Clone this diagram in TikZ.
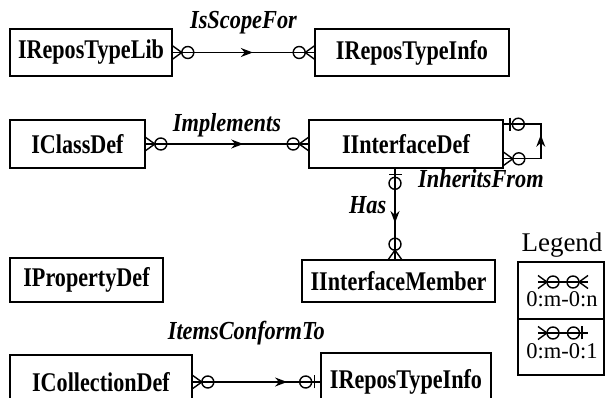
\documentclass[tikz,border=0pt]{standalone}
\usepackage{fontspec}
\setmainfont{Liberation Serif}
\newfontfamily\boxfont[FakeStretch=0.82]{Liberation Serif}
\newfontfamily\lblfont[FakeStretch=0.86]{Liberation Serif}
\usetikzlibrary{arrows.meta,decorations.markings,calc}
\tikzset{
 ent/.style={draw, line width=1.6pt, inner sep=0pt, font=\boxfont\bfseries\fontsize{27}{32}\selectfont},
 rel/.style={line width=1.4pt},
 lbl/.style={font=\lblfont\bfseries\itshape\fontsize{26}{30}\selectfont, inner sep=0pt},
 lgd/.style={font=\fontsize{22.5}{26}\selectfont, inner sep=0pt},
 midarrow/.style={postaction={decorate},decoration={markings,mark=at position #1 with {\arrow{Stealth[length=12pt,width=9pt]}}}},
 zmany/.pic={\draw[rel] (0,-6.5)--(9,0)--(0,6.5); \draw[rel] (15,0) circle[radius=6];},
 zone/.pic={\draw[rel] (6,-6.5)--(6,6.5); \draw[rel] (14.5,0) circle[radius=6];},
}
\begin{document}
\begin{tikzpicture}[x=1pt,y=-1pt]
\useasboundingbox (0,0) rectangle (606,398);
\clip (0,0) rectangle (606,398);
% entities
\node[ent, minimum width=162pt, minimum height=47pt] (A) at (91,52.5) {IReposTypeLib};
\node[ent, minimum width=194pt, minimum height=47pt] (B) at (412,52.5) {IReposTypeInfo};
\node[ent, minimum width=135pt, minimum height=48pt] (C) at (77.5,144) {IClassDef};
\node[ent, minimum width=194pt, minimum height=48pt] (D) at (406,144) {IInterfaceDef};
\node[ent, minimum width=153pt, minimum height=44pt] (E) at (86.5,280) {IPropertyDef};
\node[ent, minimum width=193pt, minimum height=42pt] (F) at (398.5,281) {IInterfaceMember};
\node[ent, minimum width=182pt, minimum height=54pt] (G) at (101,382) {ICollectionDef};
\node[ent, minimum width=170pt, minimum height=58pt] (H) at (406,382) {IReposTypeInfo};
% IsScopeFor
\draw[rel, midarrow=0.566] (A.east) -- node[lbl, anchor=base, yshift=24pt] {IsScopeFor} (B.west);
\pic at (A.east) {zmany};
\pic[rotate=180] at (B.west) {zmany};
% Implements
\draw[rel, midarrow=0.6] (C.east) -- node[lbl, anchor=base, yshift=12pt] {Implements} (D.west);
\pic at (C.east) {zmany};
\pic[rotate=180] at (D.west) {zmany};
% Has
\coordinate (Ds) at ($(D.south)+(-11,0)$);
\coordinate (Ft) at (Ds |- F.north);
\draw[rel, midarrow=0.6] (Ds) -- node[lbl, left=8pt, pos=0.40] {Has} (Ft);
\pic[rotate=-90] at (Ds) {zone};
\pic[rotate=90] at (Ft) {zmany};
% InheritsFrom loop
\coordinate (Dt) at ($(D.north east)+(0,5)$);
\coordinate (Db) at ($(D.south east)+(0,-10)$);
\draw[rel, midarrow=61pt] (Db) -- ++(37,0) |- (Dt);
\pic at (Dt) {zone};
\pic at (Db) {zmany};
\node[lbl, anchor=base] (IF) at (481,188) {InheritsFrom};
% ItemsConformTo
\draw[rel, midarrow=0.74] (G.east |- 0,382) -- node[lbl, anchor=base, pos=0.42, yshift=42pt] {ItemsConformTo} (H.west |- 0,382);
\pic at (G.east |- 0,382) {zmany};
\pic[rotate=180] at (H.west |- 0,382) {zone};
% Legend
\node[font=\fontsize{27}{30}\selectfont, inner sep=0pt, anchor=base] (LG) at (562,252) {Legend};
\node[draw, line width=1.6pt, minimum width=86pt, minimum height=57pt, inner sep=0pt] (L1) at (561,290.5) {};
\node[draw, line width=1.6pt, minimum width=86pt, minimum height=56pt, inner sep=0pt] (L2) at (561,347) {};
\coordinate (S1a) at (538,282);
\coordinate (S1b) at (588,282);
\coordinate (S2a) at (538,333);
\coordinate (S2b) at (588,333);
\draw[rel] (S1a) -- (S1b);
\pic at (S1a) {zmany};
\pic[rotate=180] at (S1b) {zmany};
\draw[rel] (S2a) -- (S2b);
\pic at (S2a) {zmany};
\pic[rotate=180] at (S2b) {zone};
\node[lgd, anchor=base] (T1) at (562,307) {0:m-0:n};
\node[lgd, anchor=base] (T2) at (562,359) {0:m-0:1};
\end{tikzpicture}
\end{document}
